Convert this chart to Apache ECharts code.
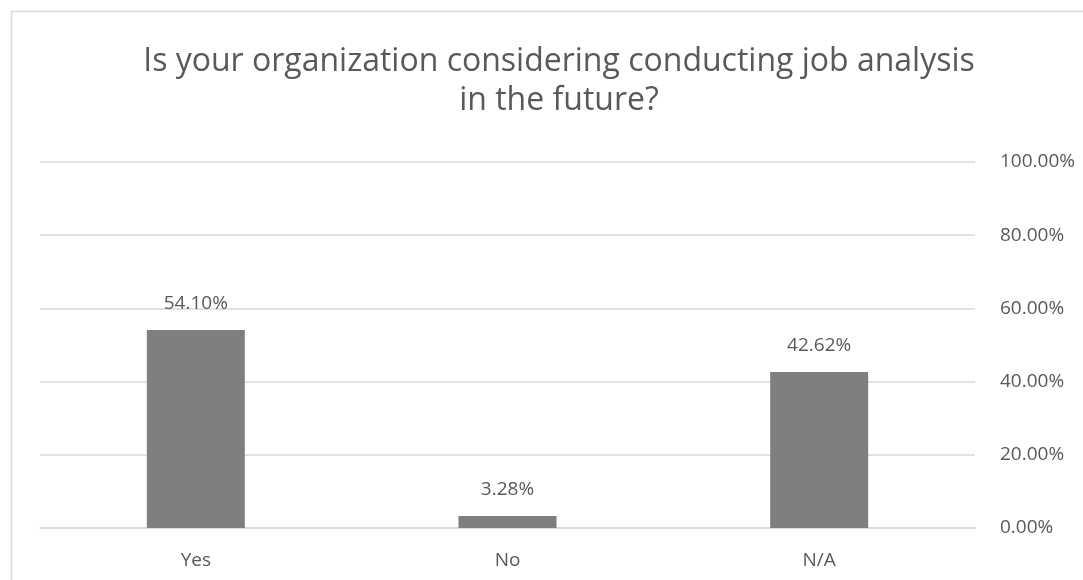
<!DOCTYPE html>
<html><head><meta charset="utf-8">
<script src="https://cdn.jsdelivr.net/npm/echarts@6/dist/echarts.min.js"></script>
<style>html,body{margin:0;padding:0;background:#fff}#c{width:1083px;height:580px}</style>
</head><body><div id="c"></div>
<script>
const categories = ['Yes', 'No', 'N/A'];
const values = [54.10, 3.28, 42.62];
const titleText = 'Is your organization considering conducting job analysis\nin the future?';

const chart = echarts.init(document.getElementById('c'), null, {renderer: 'canvas'});
chart.setOption({
  animation: false,
  backgroundColor: '#fff',
  graphic: [{
    type: 'rect', left: 9, top: 9, silent: true,
    shape: {x: 0, y: 0, width: 1100, height: 600},
    style: {fill: 'none', stroke: '#d9d9d9', lineWidth: 1.5}
  }],
  title: {
    text: titleText, left: 554, top: 37, textAlign: 'center',
    textStyle: {fontFamily: 'Open Sans', fontSize: 32, fontWeight: 'normal', color: '#595959', lineHeight: 39}
  },
  grid: {left: 40, right: 108, top: 162, bottom: 52, containLabel: false},
  xAxis: {
    type: 'category', data: categories,
    axisLine: {show: true, lineStyle: {color: '#d9d9d9', width: 1.5}},
    axisTick: {show: false},
    axisLabel: {color: '#595959', fontFamily: 'Open Sans', fontSize: 19, margin: 23}
  },
  yAxis: {
    type: 'value', position: 'right', min: 0, max: 100, interval: 20,
    axisLine: {show: false}, axisTick: {show: false},
    splitLine: {lineStyle: {color: '#d9d9d9', width: 1.5}},
    axisLabel: {color: '#595959', fontFamily: 'Open Sans', fontSize: 19, margin: 25,
      formatter: v => v.toFixed(2) + '%'}
  },
  series: [{
    type: 'bar', data: values, barWidth: 98,
    itemStyle: {color: '#7f7f7f'},
    label: {show: true, position: 'top', distance: 17, color: '#595959', fontFamily: 'Open Sans', fontSize: 19,
      formatter: p => p.value.toFixed(2) + '%'}
  }]
});
</script></body></html>
